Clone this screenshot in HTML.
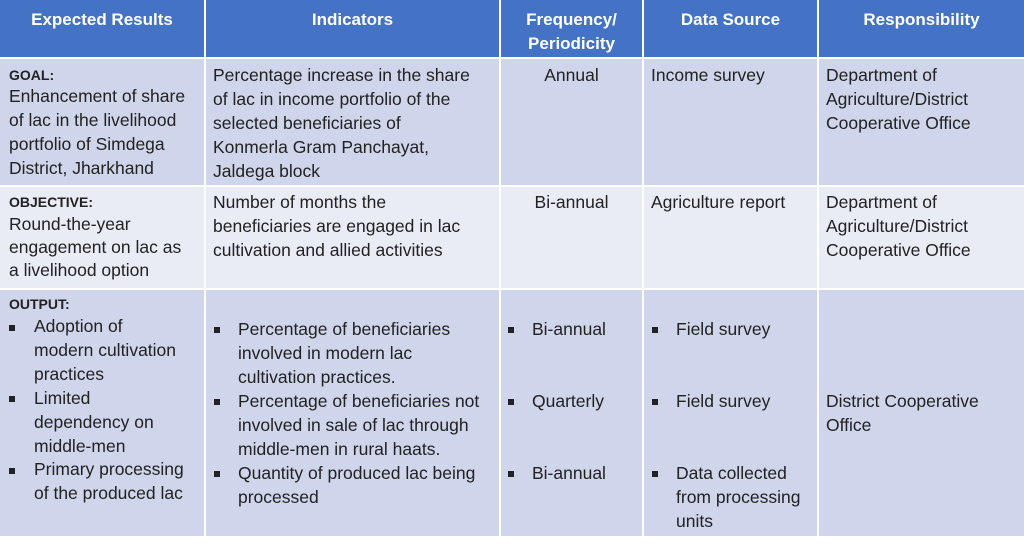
<!DOCTYPE html>
<html><head><meta charset="utf-8"><style>
body{margin:0;width:1024px;height:545px;background:#fff;position:relative;overflow:hidden;font-family:"Liberation Sans",sans-serif;color:#222}
.c{position:absolute}
.h{background:#4472C4}
.b{background:#CFD5EA}
.l{background:#E9EBF5}
.t{position:absolute;font-size:17.5px;line-height:24px;white-space:nowrap;letter-spacing:0px}
.s{font-size:14px;font-weight:bold}
.w{color:#fff;font-weight:bold;font-size:17px;text-align:center}
.q{position:absolute;width:6px;height:6px;background:#222}
</style></head><body>
<div class="c h" style="left:0;top:0;width:204px;height:57px"></div>
<div class="c h" style="left:206px;top:0;width:293px;height:57px"></div>
<div class="c h" style="left:501px;top:0;width:141px;height:57px"></div>
<div class="c h" style="left:644px;top:0;width:173px;height:57px"></div>
<div class="c h" style="left:819px;top:0;width:205px;height:57px"></div>

<div class="c b" style="left:0;top:59px;width:204px;height:126px"></div>
<div class="c b" style="left:206px;top:59px;width:293px;height:126px"></div>
<div class="c b" style="left:501px;top:59px;width:141px;height:126px"></div>
<div class="c b" style="left:644px;top:59px;width:173px;height:126px"></div>
<div class="c b" style="left:819px;top:59px;width:205px;height:126px"></div>

<div class="c l" style="left:0;top:187px;width:204px;height:101px"></div>
<div class="c l" style="left:206px;top:187px;width:293px;height:101px"></div>
<div class="c l" style="left:501px;top:187px;width:141px;height:101px"></div>
<div class="c l" style="left:644px;top:187px;width:173px;height:101px"></div>
<div class="c l" style="left:819px;top:187px;width:205px;height:101px"></div>

<div class="c b" style="left:0;top:290px;width:204px;height:246px"></div>
<div class="c b" style="left:206px;top:290px;width:293px;height:246px"></div>
<div class="c b" style="left:501px;top:290px;width:141px;height:246px"></div>
<div class="c b" style="left:644px;top:290px;width:173px;height:246px"></div>
<div class="c b" style="left:819px;top:290px;width:205px;height:246px"></div>

<div class="t w" style="left:0;width:204px;top:8px">Expected Results</div>
<div class="t w" style="left:206px;width:293px;top:8px">Indicators</div>
<div class="t w" style="left:501px;width:141px;top:8px">Frequency/<br>Periodicity</div>
<div class="t w" style="left:644px;width:173px;top:8px">Data Source</div>
<div class="t w" style="left:819px;width:205px;top:8px">Responsibility</div>

<div class="t s" style="left:9px;top:63px">GOAL:</div>
<div class="t" style="left:9px;top:84px">Enhancement of share<br>of lac in the livelihood<br>portfolio of Simdega<br>District, Jharkhand</div>
<div class="t" style="left:213px;top:63px">Percentage increase in the share<br>of lac in income portfolio of the<br>selected beneficiaries of<br>Konmerla Gram Panchayat,<br>Jaldega block</div>
<div class="t" style="left:501px;width:141px;text-align:center;top:63px">Annual</div>
<div class="t" style="left:651px;top:63px">Income survey</div>
<div class="t" style="left:826px;top:63px">Department of<br>Agriculture/District<br>Cooperative Office</div>

<div class="t s" style="left:9px;top:190px">OBJECTIVE:</div>
<div class="t" style="left:9px;top:213px;line-height:23px">Round-the-year<br>engagement on lac as<br>a livelihood option</div>
<div class="t" style="left:213px;top:190px">Number of months the<br>beneficiaries are engaged in lac<br>cultivation and allied activities</div>
<div class="t" style="left:501px;width:141px;text-align:center;top:190px">Bi-annual</div>
<div class="t" style="left:651px;top:190px">Agriculture report</div>
<div class="t" style="left:826px;top:190px">Department of<br>Agriculture/District<br>Cooperative Office</div>

<div class="t s" style="left:9px;top:292px">OUTPUT:</div>
<div class="q" style="left:9px;top:325px"></div>
<div class="q" style="left:9px;top:396px"></div>
<div class="q" style="left:9px;top:468px"></div>
<div class="t" style="left:34px;top:315px;line-height:23.9px">Adoption of<br>modern cultivation<br>practices<br>Limited<br>dependency on<br>middle-men<br>Primary processing<br>of the produced lac</div>

<div class="q" style="left:214px;top:327px"></div>
<div class="q" style="left:214px;top:399px"></div>
<div class="q" style="left:214px;top:471px"></div>
<div class="t" style="left:238px;top:317px">Percentage of beneficiaries<br>involved in modern lac<br>cultivation practices.<br>Percentage of beneficiaries not<br>involved in sale of lac through<br>middle-men in rural haats.<br>Quantity of produced lac being<br>processed</div>

<div class="q" style="left:508px;top:327px"></div>
<div class="q" style="left:508px;top:399px"></div>
<div class="q" style="left:508px;top:471px"></div>
<div class="t" style="left:532px;top:317px">Bi-annual</div>
<div class="t" style="left:532px;top:389px">Quarterly</div>
<div class="t" style="left:532px;top:461px">Bi-annual</div>

<div class="q" style="left:652px;top:327px"></div>
<div class="q" style="left:652px;top:399px"></div>
<div class="q" style="left:652px;top:471px"></div>
<div class="t" style="left:676px;top:317px">Field survey</div>
<div class="t" style="left:676px;top:389px">Field survey</div>
<div class="t" style="left:676px;top:461px">Data collected<br>from processing<br>units</div>

<div class="t" style="left:826px;top:389px">District Cooperative<br>Office</div>
</body></html>
